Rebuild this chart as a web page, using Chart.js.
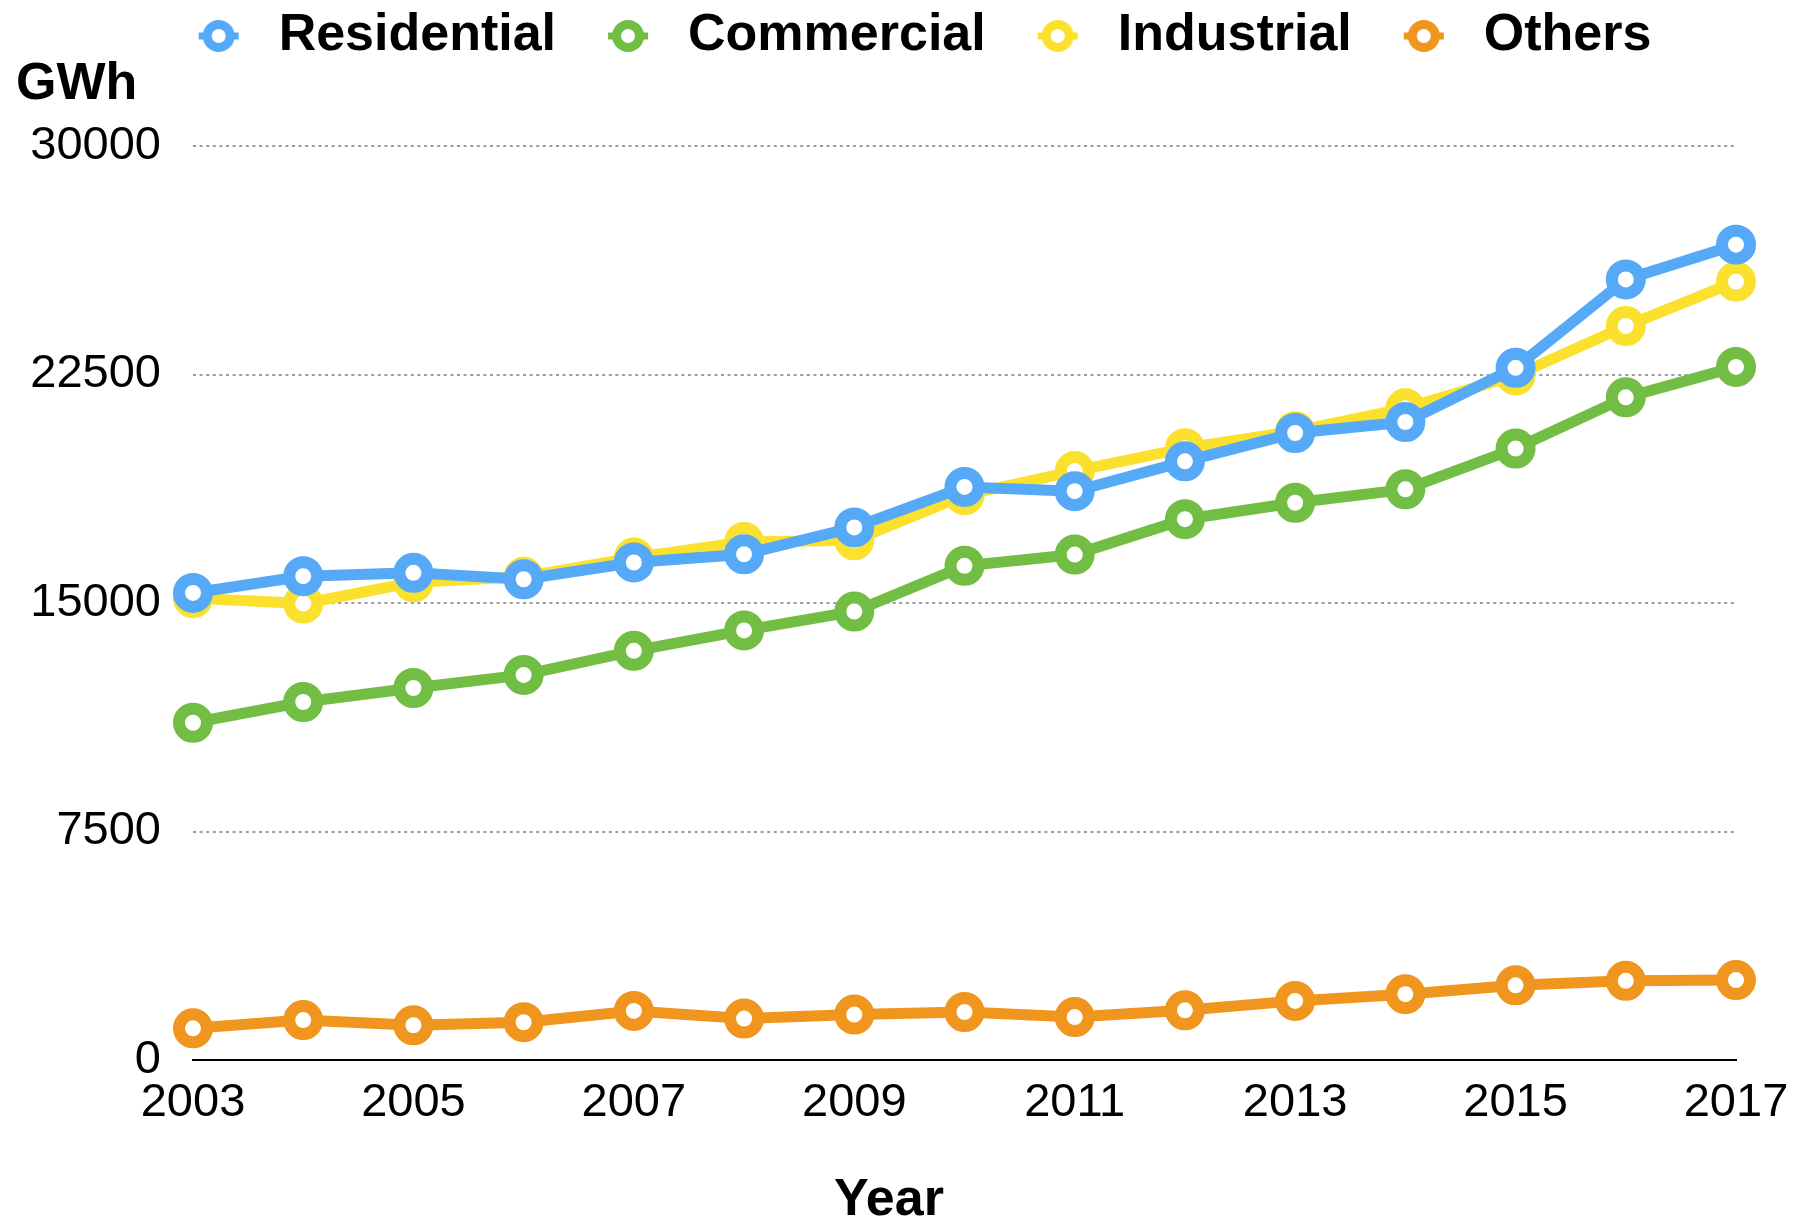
<!DOCTYPE html>
<html>
<head>
<meta charset="utf-8">
<title>Electricity consumption by sector</title>
<script src="https://cdn.jsdelivr.net/npm/chart.js@4.4.1/dist/chart.umd.min.js"></script>
<style>
  html, body { margin: 0; padding: 0; background: #fff; }
</style>
</head>
<body>
<canvas id="consumo" width="1802" height="1219"></canvas>
<script>
// Annual consumption per sector, GWh
const years = ['2003', '2004', '2005', '2006', '2007', '2008', '2009', '2010',
               '2011', '2012', '2013', '2014', '2015', '2016', '2017'];
const residential = [15330, 15880, 15990, 15780, 16330, 16600, 17480, 18810,
                     18670, 19650, 20580, 20940, 22720, 25620, 26760];
const commercial  = [11070, 11750, 12210, 12640, 13430, 14100, 14720, 16220,
                     16590, 17750, 18290, 18730, 20070, 21750, 22750];
const industrial  = [15160, 14980, 15680, 15860, 16490, 17000, 17060, 18540,
                     19330, 20080, 20640, 21390, 22470, 24090, 25550];
const others      = [1040, 1310, 1140, 1240, 1610, 1360, 1490, 1575,
                     1410, 1630, 1940, 2160, 2450, 2600, 2625];

const seriesNames  = ['Residential', 'Commercial', 'Industrial', 'Others'];
const seriesColors = ['#55a9f7', '#72be44', '#fbe02e', '#f0961e'];
const yMax = 30000;
const yStep = 7500;

const FONT = "'Liberation Sans', Arial, sans-serif";

// little "line + ring" icon used in the legend
function legendIcon(color) {
  const c = document.createElement('canvas');
  c.width = 86;
  c.height = 36;
  const g = c.getContext('2d');
  const cx = 52, cy = 18;
  g.strokeStyle = color;
  g.lineWidth = 7;
  g.beginPath();
  g.moveTo(cx - 20, cy);
  g.lineTo(cx + 20, cy);
  g.stroke();
  g.fillStyle = '#fff';
  g.lineWidth = 9;
  g.beginPath();
  g.arc(cx, cy, 11.5, 0, Math.PI * 2);
  g.fill();
  g.stroke();
  return c;
}
const icons = seriesColors.map(legendIcon);

function serie(i, values) {
  return {
    label: seriesNames[i],
    data: values,
    borderColor: seriesColors[i],
    backgroundColor: seriesColors[i],
    borderWidth: 11,
    tension: 0,
    fill: false,
    pointRadius: 14,
    pointHoverRadius: 14,
    pointBorderWidth: 12,
    pointHoverBorderWidth: 12,
    pointBackgroundColor: '#fff',
    pointBorderColor: seriesColors[i]
  };
}

// x axis caption, centred on the page
const yearCaption = {
  id: 'yearCaption',
  afterDraw(chart) {
    const ctx = chart.ctx;
    ctx.save();
    ctx.font = 'bold 52px ' + FONT;
    ctx.fillStyle = '#000';
    ctx.textAlign = 'center';
    ctx.textBaseline = 'middle';
    ctx.fillText('Year', chart.width / 2 - 12, chart.height - 18.5);
    ctx.restore();
  }
};

new Chart(document.getElementById('consumo'), {
  type: 'line',
  data: {
    labels: years,
    datasets: [
      serie(0, residential),
      serie(1, commercial),
      serie(2, industrial),
      serie(3, others)
    ]
  },
  plugins: [yearCaption],
  options: {
    responsive: false,
    animation: false,
    layout: { padding: { top: -10, left: 16, right: 0, bottom: 0 } },
    plugins: {
      legend: {
        position: 'top',
        labels: {
          usePointStyle: true,
          pointStyleWidth: 86,
          padding: 20,
          color: '#000',
          font: { family: FONT, size: 52, weight: 'bold' },
          generateLabels(chart) {
            const items = Chart.defaults.plugins.legend.labels.generateLabels(chart);
            items.forEach((it, i) => { it.pointStyle = icons[i]; });
            return items;
          }
        }
      },
      title: {
        display: true,
        text: 'GWh',
        align: 'start',
        weight: 500,
        color: '#000',
        font: { family: FONT, size: 52, weight: 'bold', lineHeight: 1 },
        padding: { top: -13, bottom: 35 }
      },
      tooltip: { enabled: false }
    },
    scales: {
      x: {
        afterFit(scale) {
          scale.height = 159;
          scale.paddingRight = 66;
        },
        grid: { display: true, drawOnChartArea: false, drawTicks: false },
        border: { display: true, color: '#000', width: 2 },
        ticks: {
          autoSkip: false,
          maxRotation: 0,
          padding: 15,
          color: '#000',
          font: { family: FONT, size: 47 },
          callback: function(value, index) {
            return index % 2 === 0 ? this.getLabelForValue(value) : '';
          }
        }
      },
      y: {
        min: 0,
        max: yMax,
        afterFit(scale) {
          scale.width = 177;
        },
        grid: {
          drawTicks: false,
          lineWidth: 2,
          color: (c) => (c.tick && c.tick.value === 0) ? 'rgba(0,0,0,0)' : '#9c9c9c'
        },
        border: { display: false, dash: [3, 3.6] },
        ticks: {
          stepSize: yStep,
          padding: 32,
          color: '#000',
          font: { family: FONT, size: 47 },
          callback: (value) => String(value)
        }
      }
    }
  }
});
</script>
</body>
</html>
